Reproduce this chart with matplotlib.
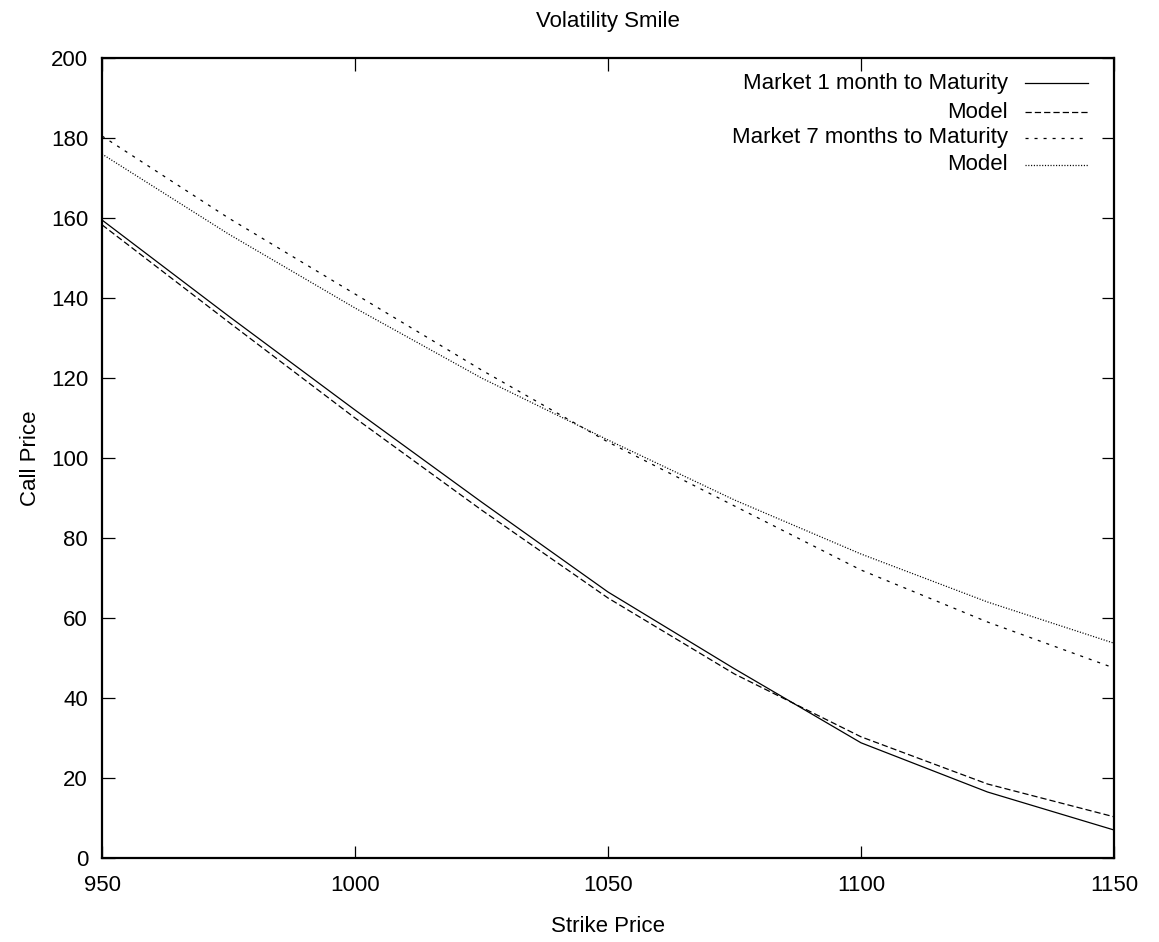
import matplotlib
matplotlib.use("Agg")
import matplotlib.pyplot as plt

plt.rcParams['font.family'] = ['Liberation Sans', 'DejaVu Sans']
plt.rcParams['lines.scale_dashes'] = False

strikes = [950, 975, 1000, 1025, 1050, 1075, 1100, 1125, 1150]
market_1m = [159.5, 135.5, 112.0, 89.0, 66.5, 47.3, 28.8, 16.5, 7.0]
model_1m = [158.3, 134.0, 110.0, 87.0, 65.0, 46.0, 30.3, 18.5, 10.3]
market_7m = [180.5, 160.0, 141.0, 122.0, 104.0, 88.0, 72.0, 59.0, 47.5]
model_7m = [176.0, 156.0, 137.5, 120.0, 104.5, 89.5, 76.0, 64.0, 53.7]

labels = ["Market 1 month to Maturity", "Model", "Market 7 months to Maturity", "Model"]
xticks = [950, 1000, 1050, 1100, 1150]
yticks = [0, 20, 40, 60, 80, 100, 120, 140, 160, 180, 200]

fig = plt.figure(figsize=(11.59, 9.42), dpi=100)
ax = fig.add_axes([102/1159, 84/942, 1012/1159, 800/942])

styles = [
    dict(linestyle='-'),
    dict(linestyle=(0, (4.5, 2.2))),
    dict(linestyle=(0, (2.2, 4.3))),
    dict(linestyle=(0, (0.8, 1.2))),
]
series = [market_1m, model_1m, market_7m, model_7m]
lw = 0.9
for s, st in zip(series, styles):
    ax.plot(strikes, s, color='black', linewidth=lw, **st)

ax.set_xlim(950, 1150)
ax.set_ylim(0, 200)
ax.set_xticks(xticks)
ax.set_yticks(yticks)
ax.tick_params(direction='in', length=9, width=0.9, top=True, right=True,
               labelsize=16)
ax.tick_params(axis='x', pad=12)
ax.tick_params(axis='y', pad=10)
for sp in ax.spines.values():
    sp.set_linewidth(1.6)

ax.set_title("Volatility Smile", fontsize=16, pad=22)
ax.set_xlabel("Strike Price", fontsize=16, labelpad=15)
ax.set_ylabel("Call Price", fontsize=16, labelpad=7)

# legend (gnuplot style: right-aligned text, sample to the right)
row_y = [83, 112, 138, 165]
for lab, st, yp in zip(labels, styles, row_y):
    yf = (942 - 84 - yp) / 800.0
    ax.text((1008 - 102) / 1012, yf, lab, transform=ax.transAxes,
            ha='right', va='center', fontsize=16)
    ax.plot([(1025 - 102) / 1012, (1088 - 102) / 1012], [yf, yf],
            transform=ax.transAxes, color='black', linewidth=lw, **st)

fig.savefig("out.png", dpi=100)
